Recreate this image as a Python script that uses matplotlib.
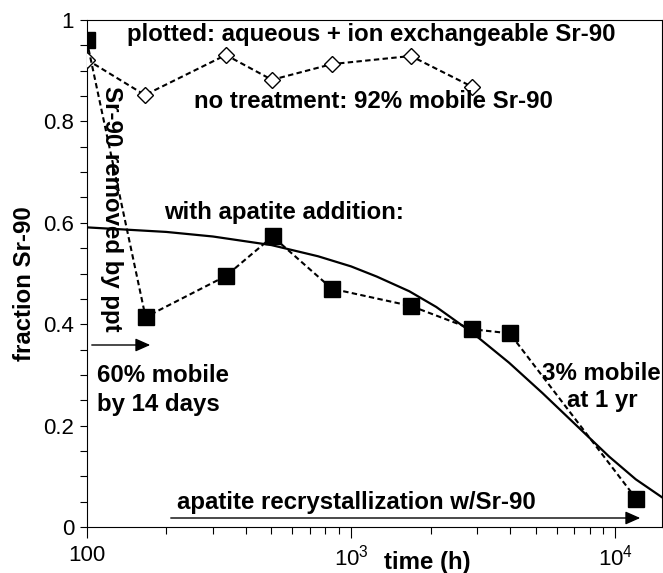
import matplotlib
matplotlib.use("Agg")
import matplotlib.pyplot as plt
from matplotlib.patches import FancyArrowPatch
from matplotlib.ticker import FixedLocator, FixedFormatter, NullFormatter, LogLocator

# Data
apatite_time = [100, 167, 336, 505, 846, 1683, 2878, 3981, 12010]
apatite_frac = [0.960, 0.414, 0.495, 0.573, 0.470, 0.436, 0.390, 0.382, 0.055]

control_time = [100, 166, 336, 502, 846, 1683, 2878]
control_frac = [0.922, 0.852, 0.931, 0.882, 0.913, 0.929, 0.868]

model_time = [100, 200, 300, 500, 750, 1000, 1250, 1660, 2100, 2878, 3960, 5300, 7080, 9460, 11940, 15060]
model_frac = [0.591, 0.582, 0.573, 0.556, 0.534, 0.514, 0.494, 0.465, 0.434, 0.383, 0.324, 0.264, 0.2015, 0.139, 0.094, 0.058]

y_ticks = [0, 0.2, 0.4, 0.6, 0.8, 1.0]
y_ticklabels = ["0", "0.2", "0.4", "0.6", "0.8", "1"]
x_ticks = [100, 1000, 10000]
x_ticklabels = ["100", "$\\mathregular{10^3}$", "$\\mathregular{10^4}$"]

BOLD = ["Liberation Sans", "DejaVu Sans"]
REG = ["Liberation Sans", "DejaVu Sans"]

W, H = 663, 573
fig = plt.figure(figsize=(W / 100, H / 100), dpi=100)
L, R, T, B = 86.7, 662.0, 20.0, 527.0
ax = fig.add_axes([L / W, 1 - B / H, (R - L) / W, (B - T) / H])

ax.set_xscale("log")
ax.set_xlim(100, 1.5e4)
ax.set_ylim(0, 1)

dash = (0, (2.6, 1.6))
ax.plot(model_time, model_frac, color="black", lw=1.6, zorder=2)
ax.plot(control_time, control_frac, color="black", lw=1.5, ls=dash, zorder=3)
ax.plot(control_time, control_frac, ls="none", marker="D", ms=8, mfc="white",
        mec="black", mew=1.0, zorder=4)
ax.plot(apatite_time, apatite_frac, color="black", lw=1.5, ls=dash, marker="s",
        ms=12, mfc="black", mec="black", zorder=5)

# ticks
ax.yaxis.set_major_locator(FixedLocator(y_ticks))
ax.yaxis.set_major_formatter(FixedFormatter(y_ticklabels))
ax.yaxis.set_minor_locator(FixedLocator([0.05 * i for i in range(21)]))
ax.xaxis.set_major_locator(FixedLocator(x_ticks))
ax.xaxis.set_major_formatter(FixedFormatter(x_ticklabels))
ax.xaxis.set_minor_locator(LogLocator(base=10, subs=range(2, 10)))
ax.xaxis.set_minor_formatter(NullFormatter())
ax.tick_params(axis="both", which="both", direction="out", width=0.8, color="black")
ax.tick_params(axis="y", which="both", length=5, pad=4)
ax.tick_params(axis="x", which="major", length=8, pad=5)
ax.tick_params(axis="x", which="minor", length=5)
for lbl in ax.get_xticklabels() + ax.get_yticklabels():
    lbl.set_fontfamily(REG)
    lbl.set_fontsize(16)
for s in ax.spines.values():
    s.set_linewidth(0.8)

def px(x, y):
    return (x / W, 1 - y / H)

tb = dict(fontfamily=BOLD, fontweight="bold", fontsize=17.3, color="black")

fig.text(*px(371, 35), "plotted: aqueous + ion exchangeable Sr-90", ha="center", va="center", **tb)
fig.text(*px(373, 101), "no treatment: 92% mobile Sr-90", ha="center", va="center", **tb)
fig.text(*px(284, 213), "with apatite addition:", ha="center", va="center", **tb)
fig.text(*px(111, 209), "Sr-90 removed by ppt", ha="center", va="center", rotation=-90, **tb)
fig.text(*px(97, 375), "60% mobile", ha="left", va="center", **tb)
fig.text(*px(97, 405), "by 14 days", ha="left", va="center", **tb)
fig.text(*px(661, 373), "3% mobile", ha="right", va="center", **tb)
fig.text(*px(602, 401), "at 1 yr", ha="center", va="center", **tb)
fig.text(*px(356, 503), "apatite recrystallization w/Sr-90", ha="center", va="center", **tb)
fig.text(*px(25, 284), "fraction Sr-90", ha="center", va="center", rotation=90, **tb)
fig.text(*px(427, 562), "time (h)", ha="center", va="center", **tb)

for (x0, y0), (x1, y1) in [((89, 345), (153, 345)), ((168, 518), (643, 518))]:
    fig.add_artist(FancyArrowPatch(px(x0, y0), px(x1, y1), transform=fig.transFigure,
                                   arrowstyle="-|>,head_length=9,head_width=4",
                                   color="black", lw=1.0, mutation_scale=1))

fig.savefig("out.png", dpi=100)
